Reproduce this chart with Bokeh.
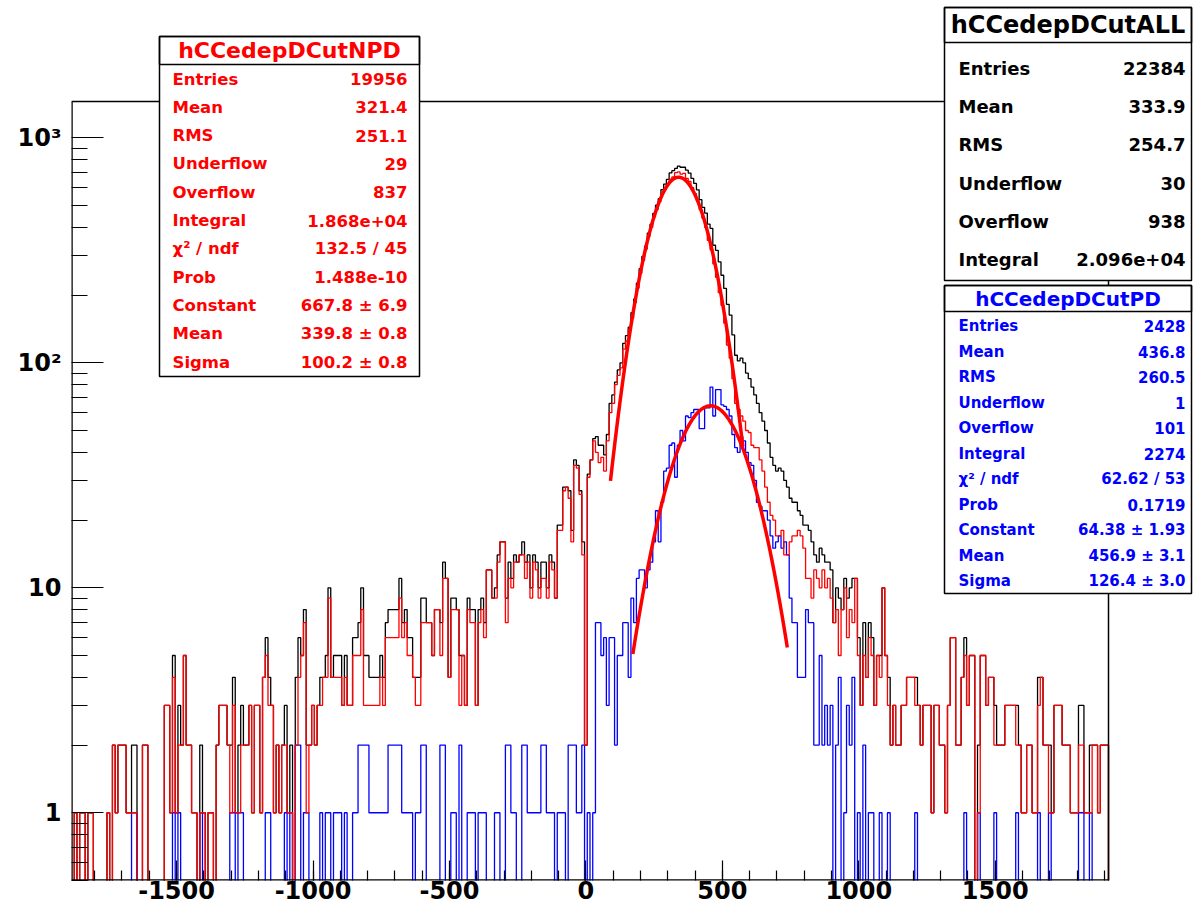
import numpy as np
from bokeh.plotting import figure
from bokeh.models import Range1d, FixedTicker, BoxAnnotation, Label
from bokeh.embed import file_html
from bokeh.resources import INLINE

# ---------------- data ----------------
BIN_LO = -1885.0
BIN_W = 10.0

# hCCedepDCutNPD (red) counts per bin, bin centres -1880 ... 1910
npd_counts = [
    0, 1, 0, 1, 1, 0, 1, 1, 0, 0,
    0, 0, 0, 1, 0, 2, 1, 2, 2, 2,
    1, 1, 1, 1, 0, 0, 2, 2, 0, 0,
    0, 0, 0, 0, 3, 3, 1, 4, 1, 2,
    2, 5, 2, 2, 1, 1, 0, 1, 1, 0,
    1, 1, 0, 2, 3, 3, 3, 2, 1, 3,
    1, 1, 2, 2, 2, 3, 1, 3, 3, 1,
    4, 5, 3, 3, 1, 2, 1, 2, 2, 1,
    1, 0, 2, 4, 5, 7, 1, 2, 3, 2,
    3, 3, 4, 4, 9, 4, 4, 4, 4, 3,
    4, 3, 3, 5, 5, 5, 8, 3, 3, 3,
    3, 3, 3, 4, 3, 6, 6, 6, 6, 6,
    9, 6, 7, 5, 5, 4, 3, 3, 7, 7,
    7, 7, 5, 8, 8, 5, 11, 11, 4, 8,
    8, 8, 3, 5, 3, 8, 7, 7, 3, 7,
    8, 6, 12, 12, 9, 9, 13, 16, 16, 7,
    11, 10, 13, 13, 14, 14, 11, 13, 9, 13,
    12, 9, 11, 11, 9, 13, 12, 9, 18, 18,
    27, 28, 25, 16, 35, 34, 26, 14, 2, 31,
    37, 45, 40, 36, 38, 33, 45, 60, 66, 80,
    88, 95, 115, 125, 140, 158, 185, 215, 250, 285,
    320, 365, 400, 445, 480, 520, 565, 590, 620, 655,
    670, 700, 705, 690, 695, 660, 640, 600, 565, 525,
    480, 440, 400, 350, 318, 275, 240, 205, 180, 150,
    120, 105, 85, 66, 62, 58, 55, 50, 49, 43,
    42, 42, 37, 33, 28, 24, 21, 20, 17, 17,
    18, 14, 14, 16, 17, 17, 18, 17, 15, 11,
    11, 9, 12, 11, 10, 12, 10, 11, 9, 7,
    8, 5, 8, 10, 6, 8, 7, 11, 5, 3,
    5, 4, 6, 5, 3, 5, 4, 10, 5, 3,
    2, 3, 2, 2, 3, 3, 4, 4, 4, 3,
    3, 2, 3, 3, 3, 1, 3, 3, 2, 2,
    1, 3, 6, 6, 2, 2, 4, 5, 3, 5,
    5, 0, 1, 5, 5, 3, 4, 4, 2, 2,
    2, 2, 3, 3, 3, 3, 2, 2, 1, 1,
    2, 2, 1, 1, 3, 4, 2, 2, 1, 1,
    3, 3, 3, 2, 2, 2, 1, 1, 1, 2,
    2, 1, 1, 1, 2, 2, 1, 2, 2, 2,
]

# hCCedepDCutPD (blue) counts per bin
pd_counts = [
    0, 0, 0, 0, 0, 0, 0, 0, 0, 0,
    0, 0, 0, 0, 0, 0, 0, 0, 0, 0,
    0, 0, 1, 1, 0, 0, 0, 0, 0, 0,
    0, 0, 0, 0, 0, 0, 0, 1, 0, 1,
    0, 0, 0, 0, 0, 0, 0, 1, 0, 0,
    0, 0, 0, 0, 0, 0, 0, 0, 1, 1,
    0, 1, 1, 0, 0, 0, 0, 0, 0, 0,
    0, 1, 1, 0, 0, 0, 0, 0, 1, 0,
    1, 0, 2, 2, 0, 1, 1, 0, 0, 0,
    0, 1, 0, 1, 1, 0, 1, 1, 1, 0,
    1, 0, 0, 1, 1, 2, 2, 2, 2, 1,
    1, 1, 1, 1, 1, 1, 2, 2, 2, 2,
    2, 1, 1, 1, 1, 0, 1, 1, 2, 2,
    0, 0, 0, 0, 0, 2, 2, 0, 0, 1,
    1, 0, 2, 0, 0, 1, 1, 1, 0, 1,
    1, 1, 0, 0, 0, 1, 1, 0, 0, 2,
    2, 1, 1, 0, 0, 2, 2, 1, 1, 1,
    1, 1, 2, 2, 1, 1, 1, 0, 1, 1,
    1, 0, 2, 2, 2, 1, 1, 2, 0, 1,
    0, 1, 7, 7, 5, 6, 3, 6, 6, 2,
    5, 5, 7, 7, 4, 9, 7, 11, 12, 12,
    10, 12, 13, 16, 22, 16, 24, 33, 34, 43,
    44, 31, 43, 50, 45, 58, 57, 60, 62, 62,
    51, 51, 63, 63, 78, 58, 76, 76, 65, 64,
    62, 58, 48, 42, 40, 47, 45, 40, 36, 35,
    30, 24, 23, 22, 22, 20, 17, 15, 16, 17,
    15, 16, 14, 9, 7, 7, 4, 4, 4, 8,
    7, 7, 2, 2, 5, 2, 3, 2, 3, 0,
    2, 4, 0, 1, 3, 2, 4, 0, 1, 0,
    2, 0, 1, 1, 0, 0, 1, 0, 0, 1,
    0, 0, 0, 0, 0, 0, 0, 0, 0, 1,
    0, 0, 0, 0, 0, 0, 0, 0, 0, 0,
    0, 0, 0, 0, 0, 0, 0, 1, 0, 0,
    0, 0, 1, 0, 0, 0, 0, 0, 1, 0,
    0, 0, 0, 0, 0, 0, 1, 0, 0, 0,
    0, 0, 0, 0, 1, 0, 0, 0, 1, 0,
    0, 0, 0, 0, 0, 0, 0, 0, 0, 1,
    1, 0, 0, 1, 0, 0, 0, 0, 0, 0,
]

# Gaussian fit parameters (constant, mean, sigma) and fit ranges
npd_fit = (667.8, 339.8, 100.2)
npd_fit_range = (90.0, 575.0)
pd_fit = (64.38, 456.9, 126.4)
pd_fit_range = (172.0, 738.0)

x_tick_values = [-1500, -1000, -500, 0, 500, 1000, 1500]
x_tick_labels = ["-1500", "-1000", "-500", "0", "500", "1000", "1500"]
y_tick_values = [1, 10, 100, 1000]
y_tick_labels = ["1", "10", "10\u00b2", "10\u00b3"]

all_title = "hCCedepDCutALL"
all_names = ["Entries", "Mean", "RMS", "Underflow", "Overflow", "Integral"]
all_values = ["22384", "333.9", "254.7", "30", "938", "2.096e+04"]

npd_title = "hCCedepDCutNPD"
fit_names = ["Entries", "Mean", "RMS", "Underflow", "Overflow", "Integral",
             "\u03c7\u00b2 / ndf", "Prob", "Constant", "Mean", "Sigma"]
npd_values = ["19956", "321.4", "251.1", "29", "837", "1.868e+04",
              "132.5 / 45", "1.488e-10", "667.8 \u00b1 6.9", "339.8 \u00b1 0.8", "100.2 \u00b1 0.8"]

pd_title = "hCCedepDCutPD"
pd_values = ["2428", "436.8", "260.5", "1", "101", "2274",
             "62.62 / 53", "0.1719", "64.38 \u00b1 1.93", "456.9 \u00b1 3.1", "126.4 \u00b1 3.0"]

# axis (histogram frame) limits
X_LO, X_HI = -1885.0, 1915.0
Y_LO, Y_HI = 0.5, 1450.0

# ---------------- layout geometry ----------------
FONT = "DejaVu Sans"
W, H = 1194, 913
HL, HR, HT, HB = 71, 1108, 101, 880     # histogram frame in canvas px
CR, CT = 1193, 5                         # bokeh frame extends to here (room for stat boxes)

xs_per_px = (X_HI - X_LO) / (HR - HL)
x_max_ext = X_HI + (CR - HR) * xs_per_px
dec_per_px = (np.log10(Y_HI) - np.log10(Y_LO)) / (HB - HT)
y_max_ext = 10 ** (np.log10(Y_HI) + (HT - CT) * dec_per_px)

npd = np.array(npd_counts, dtype=float)
pdv = np.array(pd_counts, dtype=float)
allv = npd + pdv
nb = len(npd)
edges = BIN_LO + BIN_W * np.arange(nb + 1)

p = figure(width=W, height=H, x_range=Range1d(X_LO, x_max_ext), y_range=Range1d(Y_LO, y_max_ext),
           y_axis_type="log", output_backend="svg", toolbar_location=None,
           min_border_left=HL, min_border_right=W - CR, min_border_top=CT, min_border_bottom=H - HB)
p.grid.visible = False
p.outline_line_color = None
p.background_fill_color = "white"
p.border_fill_color = "white"

FLOOR = 0.05


def step_xy(vals):
    v = np.where(vals > 0, vals, FLOOR)
    xs = np.repeat(edges, 2)
    ys = np.concatenate([[FLOOR], np.repeat(v, 2), [FLOOR]])
    return xs, ys


for vals, col in ((allv, "black"), (pdv, "blue"), (npd, "red")):
    xs, ys = step_xy(vals)
    p.line(xs, ys, line_color=col, line_width=1.3)

for (A, m, s), (lo, hi) in ((npd_fit, npd_fit_range), (pd_fit, pd_fit_range)):
    fx = np.linspace(lo, hi, 300)
    fy = A * np.exp(-0.5 * ((fx - m) / s) ** 2)
    p.line(fx, fy, line_color="red", line_width=3.5)

# histogram frame (top and right sides; left/bottom come with the axes)
p.line([X_LO, X_HI, X_HI], [Y_HI, Y_HI, Y_LO], line_color="black", line_width=1.5)
p.line([X_LO, X_LO], [Y_LO, Y_HI], line_color="black", line_width=2.5)
p.line([X_LO, X_HI], [Y_LO, Y_LO], line_color="black", line_width=2.5)

# axes (ticks + labels); axis lines drawn by the frame above
xa = p.xaxis[0]
xa.ticker = FixedTicker(ticks=x_tick_values, minor_ticks=list(range(-1800, 1901, 100)))
xa.major_label_overrides = dict(zip(x_tick_values, x_tick_labels))
xa.major_tick_in = 20
xa.major_tick_out = 0
xa.minor_tick_in = 10
xa.minor_tick_out = 0
xa.major_label_standoff = 0
ya = p.yaxis[0]
minor_y = [k * 10.0 ** e for e in range(-1, 3) for k in range(2, 10)]
ya.ticker = FixedTicker(ticks=y_tick_values, minor_ticks=minor_y)
ya.major_label_overrides = dict(zip(y_tick_values, y_tick_labels))
ya.major_tick_in = 32
ya.major_tick_out = 0
ya.minor_tick_in = 16
ya.minor_tick_out = 0
ya.major_label_standoff = 10
for ax in (xa, ya):
    ax.axis_line_color = None
    ax.major_tick_line_color = "black"
    ax.minor_tick_line_color = "black"
    ax.major_tick_line_width = 1.2
    ax.minor_tick_line_width = 1.2
    ax.major_label_text_font = FONT
    ax.major_label_text_font_style = "bold"
    ax.major_label_text_font_size = "24px"
    ax.major_label_text_color = "black"


# ---------------- stat boxes ----------------
def sx(px):
    return px - HL


def sy(py):
    return HB - py


def stat_box(left, right, top, sep, bottom, title, title_size, names, values,
             row0, dy, size, color, xl, xr):
    for (t, b, fill) in ((top, bottom, True), (top, sep, False)):
        p.add_layout(BoxAnnotation(left=sx(left), right=sx(right), top=sy(t), bottom=sy(b),
                                   left_units="screen", right_units="screen",
                                   top_units="screen", bottom_units="screen",
                                   fill_color="white", fill_alpha=1.0 if fill else 0.0,
                                   line_color="black", line_width=1.5, line_alpha=1.0,
                                   level="overlay"))
    p.add_layout(Label(x=sx((left + right) / 2), y=sy((top + sep) / 2), x_units="screen", y_units="screen",
                       text=title, text_align="center", text_baseline="middle",
                       text_font=FONT, text_font_style="bold", text_font_size=title_size,
                       text_color=color, level="overlay"))
    for i, (n, v) in enumerate(zip(names, values)):
        y = row0 + i * dy
        p.add_layout(Label(x=sx(xl), y=sy(y), x_units="screen", y_units="screen", text=n,
                           text_align="left", text_baseline="middle", text_font=FONT,
                           text_font_style="bold", text_font_size=size, text_color=color,
                           level="overlay"))
        p.add_layout(Label(x=sx(xr), y=sy(y), x_units="screen", y_units="screen", text=v,
                           text_align="right", text_baseline="middle", text_font=FONT,
                           text_font_style="bold", text_font_size=size, text_color=color,
                           level="overlay"))


stat_box(159, 419, 36, 64, 376, npd_title, "22px", fit_names, npd_values,
         78.5, 28.3, "16.5px", "red", 172, 407)
stat_box(944, 1191, 7, 42, 280, all_title, "24px", all_names, all_values,
         68, 38.2, "18px", "black", 958, 1185)
stat_box(944, 1191, 285, 311, 593, pd_title, "20px", fit_names, pd_values,
         325.5, 25.5, "15px", "blue", 958, 1185)

open("out.html", "w").write(file_html(p, INLINE))
